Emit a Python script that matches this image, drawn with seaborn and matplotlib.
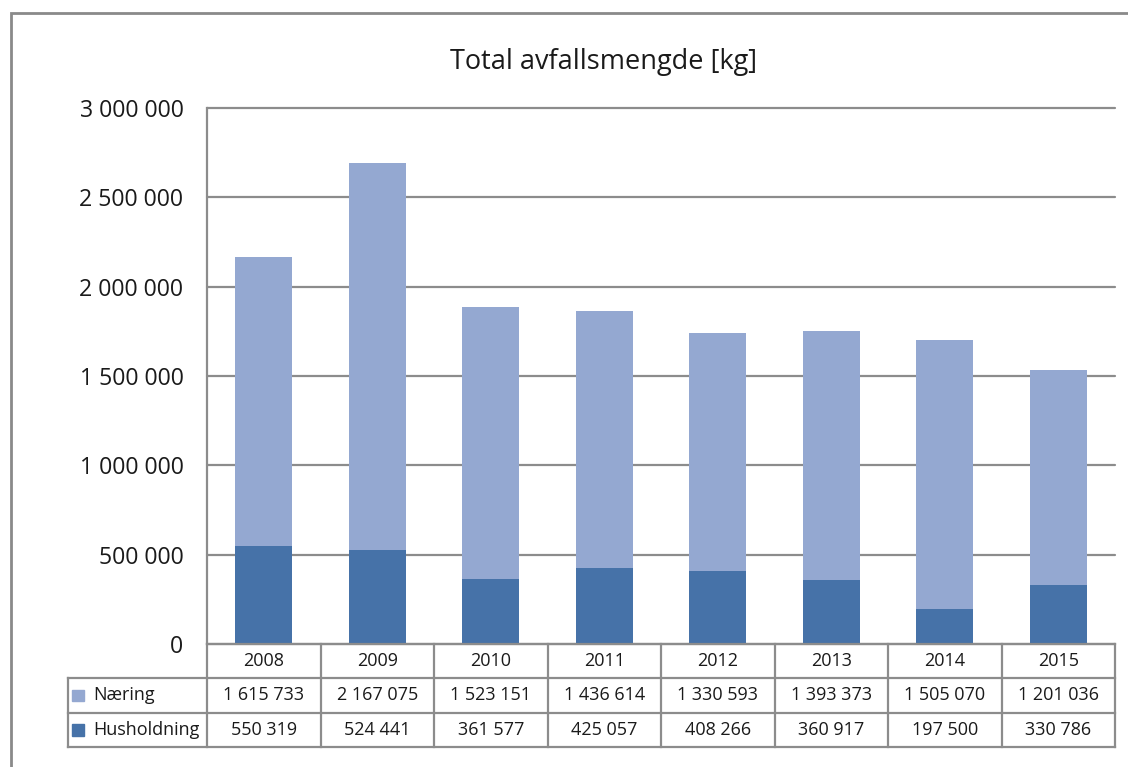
import matplotlib
matplotlib.use('Agg')
import matplotlib.pyplot as plt
import seaborn as sns
import pandas as pd
from matplotlib.patches import Rectangle

# ---- data ----
years = ['2008', '2009', '2010', '2011', '2012', '2013', '2014', '2015']
naering = [1615733, 2167075, 1523151, 1436614, 1330593, 1393373, 1505070, 1201036]
husholdning = [550319, 524441, 361577, 425057, 408266, 360917, 197500, 330786]
series_names = ['Næring', 'Husholdning']
title = 'Total avfallsmengde [kg]'
yticks = [0, 500000, 1000000, 1500000, 2000000, 2500000, 3000000]

light = '#94A8D1'
dark = '#4672A8'
gray = '#8C8C8C'

sns.set_theme(style='white')
plt.rcParams['font.family'] = ['Open Sans', 'DejaVu Sans']


def fmt(v):
    return f'{v:,}'.replace(',', ' ')


W, H = 1128, 767
fig = plt.figure(figsize=(W / 100, H / 100), dpi=100)


def px(x0, y0, x1, y1):
    return [x0 / W, 1 - y1 / H, (x1 - x0) / W, (y1 - y0) / H]


# outer chart frame
fig.add_artist(Rectangle((11 / W, -0.2), 2, 1 - 13 / H + 0.2, transform=fig.transFigure,
                         fill=False, ec='#8A8A8A', lw=2))

ax = fig.add_axes(px(207, 108, 1115, 644))
df = pd.DataFrame({'year': years, 'Næring': naering, 'Husholdning': husholdning})
df['total'] = df['Næring'] + df['Husholdning']
sns.barplot(data=df, x='year', y='total', color=light, width=0.5, saturation=1,
            linewidth=0, ax=ax)
sns.barplot(data=df, x='year', y='Husholdning', color=dark, width=0.5, saturation=1,
            linewidth=0, ax=ax)

ax.set_xticks([])
ax.set_xlim(-0.5, 7.5)
ax.set_ylim(0, 3000000)
ax.set_yticks(yticks)
ax.set_yticklabels([fmt(v) for v in yticks], fontsize=16.7, color='#1a1a1a')
ax.tick_params(axis='y', length=0, pad=17)
ax.set_xlabel('')
ax.set_ylabel('')
ax.yaxis.grid(True, color=gray, lw=1.6)
for gl in ax.get_ygridlines():
    gl.set_clip_on(False)
ax.set_axisbelow(True)
for s in ['top', 'right', 'bottom']:
    ax.spines[s].set_visible(False)
ax.spines['left'].set_color(gray)
ax.spines['left'].set_linewidth(1.6)

fig.text(603 / W, 1 - 62 / H, title, ha='center', va='center', fontsize=19.5, color='#1a1a1a')

# ---- data table ----
unit = (1115 - 207) / 8.0
xL = -0.5 - (207 - 68) / unit
tax = fig.add_axes(px(68, 644, 1115, 747))
tax.set_xlim(xL, 7.5)
tax.set_ylim(3, 0)
tax.axis('off')
lk = dict(color=gray, lw=1.6, clip_on=False, solid_capstyle='projecting')
tax.plot([-0.5, 7.5], [0, 0], **lk)
for r in [1, 2, 3]:
    tax.plot([xL, 7.5], [r, r], **lk)
for i in range(9):
    tax.plot([-0.5 + i, -0.5 + i], [0, 3], **lk)
tax.plot([xL, xL], [1, 3], **lk)

fs = 13
for i, y in enumerate(years):
    tax.text(i, 0.5, y, ha='center', va='center', fontsize=fs, color='#1a1a1a')
    tax.text(i, 1.5, fmt(naering[i]), ha='center', va='center', fontsize=fs, color='#1a1a1a')
    tax.text(i, 2.5, fmt(husholdning[i]), ha='center', va='center', fontsize=fs, color='#1a1a1a')

sq = 12 / unit
for r, (name, col) in enumerate(zip(series_names, [light, dark])):
    x0 = xL + 4 / unit
    tax.add_patch(Rectangle((x0, r + 1.5 - 0.17), sq, 0.34, color=col, clip_on=False))
    tax.text(xL + 25 / unit, r + 1.5, name, ha='left', va='center', fontsize=fs, color='#1a1a1a')

fig.savefig('out.png', dpi=100)
